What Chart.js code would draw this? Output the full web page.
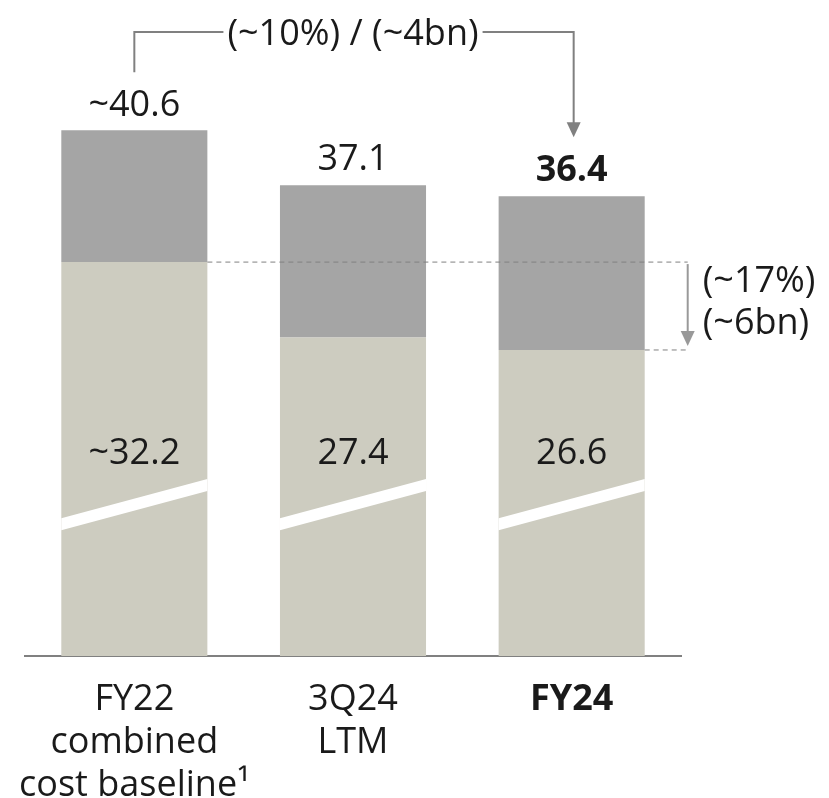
<!DOCTYPE html>
<html>
<head>
<meta charset="utf-8">
<script src="https://cdn.jsdelivr.net/npm/chart.js@4"></script>
<style>
  html, body { margin: 0; padding: 0; background: #fff; }
  #wrap { width: 829px; height: 798px; }
</style>
</head>
<body>
<div id="wrap"><canvas id="chart"></canvas></div>
<script>
const categories = [
  ['FY22', 'combined', 'cost baseline\u00B9'],
  ['3Q24', 'LTM'],
  ['FY24']
];
const baseValues = [32.2, 27.4, 26.6];
const topValues = [8.4, 9.7, 9.8];
const baseLabels = ['~32.2', '27.4', '26.6'];
const totalLabels = ['~40.6', '37.1', '36.4'];
const boldIndex = 2;
const bracketText = '(~10%) / (~4bn)';
const gapText = ['(~17%)', '(~6bn)'];

const FONT = "'Open Sans', 'Noto Sans', sans-serif";
const INK = '#1a1a1a';
const LINE = '#808080';

function arrowDown(ctx, x, y) {
  ctx.beginPath();
  ctx.moveTo(x - 7, y - 15);
  ctx.lineTo(x + 7, y - 15);
  ctx.lineTo(x, y);
  ctx.closePath();
  ctx.fill();
}

const annotate = {
  id: 'annotate',
  afterDatasetsDraw(chart) {
    const ctx = chart.ctx;
    const y = chart.scales.y;
    const base = chart.getDatasetMeta(0).data;
    const tops = chart.getDatasetMeta(1).data;
    ctx.save();

    // axis break: white slash across each bar
    base.forEach(bar => {
      const x0 = bar.x - bar.width / 2, x1 = bar.x + bar.width / 2;
      const yl = y.getPixelForValue(15.5), yr = y.getPixelForValue(18.0);
      ctx.fillStyle = '#fff';
      ctx.beginPath();
      ctx.moveTo(x0, yl - 6);
      ctx.lineTo(x1, yr - 6);
      ctx.lineTo(x1, yr + 6);
      ctx.lineTo(x0, yl + 6);
      ctx.closePath();
      ctx.fill();
    });

    ctx.textAlign = 'center';
    ctx.textBaseline = 'middle';
    ctx.fillStyle = INK;
    base.forEach((bar, i) => {
      ctx.font = '36px ' + FONT;
      ctx.fillText(baseLabels[i], bar.x, y.getPixelForValue(20));
    });
    tops.forEach((bar, i) => {
      ctx.font = (i === boldIndex ? 'bold ' : '') + '36px ' + FONT;
      ctx.fillText(totalLabels[i], bar.x, bar.y - 25);
    });

    // dashed guides for the base drop
    const first = base[0], last = base[base.length - 1];
    const gx = last.x + last.width / 2 + 43;
    ctx.strokeStyle = LINE;
    ctx.lineWidth = 1;
    ctx.setLineDash([5, 4]);
    ctx.beginPath();
    ctx.moveTo(first.x + first.width / 2, first.y);
    ctx.lineTo(gx, first.y);
    ctx.moveTo(last.x + last.width / 2, last.y);
    ctx.lineTo(gx, last.y);
    ctx.stroke();
    ctx.setLineDash([]);

    ctx.strokeStyle = '#999';
    ctx.fillStyle = '#999';
    ctx.lineWidth = 2;
    ctx.beginPath();
    ctx.moveTo(gx, first.y + 2);
    ctx.lineTo(gx, last.y - 18);
    ctx.stroke();
    arrowDown(ctx, gx, last.y - 4);

    ctx.fillStyle = INK;
    ctx.textAlign = 'left';
    ctx.font = '36px ' + FONT;
    ctx.fillText(gapText[0], gx + 15, first.y + 20);
    ctx.fillText(gapText[1], gx + 15, first.y + 62);

    // top bracket from first total to last total
    const t0 = tops[0], t2 = tops[tops.length - 1], mid = tops[1];
    const by = 32;
    ctx.font = '36px ' + FONT;
    ctx.textAlign = 'center';
    const tw = ctx.measureText(bracketText).width;
    ctx.fillText(bracketText, mid.x, by + 3);
    ctx.strokeStyle = LINE;
    ctx.fillStyle = LINE;
    ctx.lineWidth = 2;
    ctx.beginPath();
    ctx.moveTo(t0.x, t0.y - 58);
    ctx.lineTo(t0.x, by);
    ctx.lineTo(mid.x - tw / 2 - 4, by);
    ctx.moveTo(mid.x + tw / 2 + 4, by);
    ctx.lineTo(t2.x + 2, by);
    ctx.lineTo(t2.x + 2, t2.y - 72);
    ctx.stroke();
    arrowDown(ctx, t2.x + 2, t2.y - 59);

    ctx.restore();
  }
};

new Chart(document.getElementById('chart'), {
  type: 'bar',
  data: {
    labels: categories,
    datasets: [
      { data: baseValues, backgroundColor: '#cdccc0', barPercentage: 0.668, categoryPercentage: 1 },
      { data: topValues, backgroundColor: '#a5a5a5', barPercentage: 0.668, categoryPercentage: 1 }
    ]
  },
  options: {
    responsive: true,
    maintainAspectRatio: false,
    animation: false,
    layout: { padding: { left: 25, right: 148, top: 0, bottom: 0 } },
    plugins: { legend: { display: false }, tooltip: { enabled: false } },
    scales: {
      x: {
        stacked: true,
        grid: { display: false, drawTicks: false },
        border: { display: true, color: LINE, width: 2 },
        afterFit: scale => {
          scale.height = 142;
          scale.paddingLeft = 0;
          scale.paddingRight = 0;
        },
        ticks: {
          color: INK,
          padding: 22,
          autoSkip: false,
          maxRotation: 0,
          font: c => ({ family: FONT, size: 36, lineHeight: 1.2, weight: c.index === boldIndex ? 'bold' : 'normal' })
        }
      },
      y: { stacked: true, display: false, min: 7.1, max: 48.9 }
    }
  },
  plugins: [annotate]
});
</script>
</body>
</html>
